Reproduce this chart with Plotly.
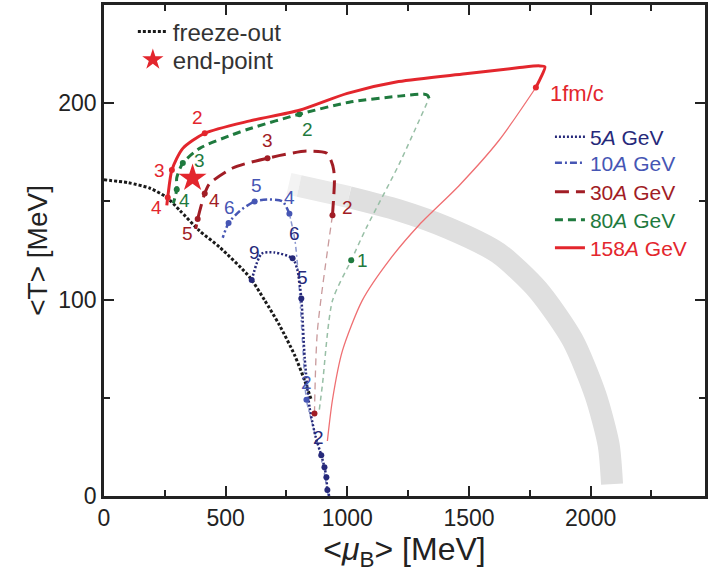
import plotly.graph_objects as go

# ---------------- data (MeV) ----------------
# freeze-out curve
fo_mu = [0, 100, 189, 258, 311, 393, 475, 598, 660, 721, 783, 824, 852]
fo_T = [161, 159.5, 156.7, 152, 145.5, 135, 126.7, 111.5, 99.7, 87, 71.8, 59, 48.9]

# critical end-point
ep_mu = [364]
ep_T = [161.8]

# grey band
band_mu = [760, 802, 1006, 1211, 1415, 1620, 1783, 1926, 2020, 2074, 2088]
band_T = [159, 157.8, 152.2, 145.5, 136.4, 123.7, 104.9, 79.4, 51.4, 26, 6]

# 158A GeV
s158_thin_mu = [918, 939, 980, 1061, 1172, 1295, 1459, 1623, 1775]
s158_thin_T = [28, 49, 74, 99.5, 120, 138, 158, 181, 208]
s158_mu = [1775, 1795, 1812, 1790, 1700, 1485, 1211, 1000, 803, 600, 414, 324, 279, 262, 258]
s158_T = [208, 213, 218.5, 219, 218, 215, 211, 205, 196.4, 191, 184.7, 177, 166, 152, 148]
s158_pt_mu = [1775, 414, 279, 262]
s158_pt_T = [208, 184.7, 166, 152]
s158_pt_lab = ["1fm/c", "2", "3", "4"]

# 80A GeV
s80_thin_mu = [885, 898, 939, 1016, 1078, 1213, 1336]
s80_thin_T = [44, 57, 99.5, 120, 136.5, 169, 202.5]
s80_mu = [1336, 1330, 1316, 1213, 1008, 803, 598, 529, 393, 324, 299, 299, 285]
s80_T = [202.5, 204, 204.6, 203.6, 200.5, 194.4, 187, 184, 177, 169.5, 162, 156, 149]
s80_pt_mu = [1016, 803, 324, 299]
s80_pt_T = [120, 194.4, 169.5, 156]
s80_pt_lab = ["1", "2", "3", "4"]

# 30A GeV
s30_thin_mu = [865, 877, 939]
s30_thin_T = [42, 84, 143]
s30_mu = [939, 947, 944, 934, 914, 832, 672, 529, 434, 414, 385, 377]
s30_T = [143, 160, 166, 170.5, 174.6, 175.6, 172, 167, 159, 154, 141, 136]
s30_pt_mu = [865, 939, 672, 414, 385]
s30_pt_T = [42, 143, 172, 154, 141]
s30_pt_lab = ["", "2", "3", "4", "5"]

# 10A GeV
s10_thin_mu = [922, 900, 860, 832, 815, 800, 785, 762]
s10_thin_T = [0, 15, 35, 49, 80, 110, 130, 143.7]
s10_mu = [762, 734, 680, 619, 557, 512, 488]
s10_T = [143.7, 150, 151, 150, 145, 139, 131.5]
s10_pt_mu = [832, 762, 619, 512]
s10_pt_T = [49, 143.7, 150, 139]
s10_pt_lab = ["2", "4", "5", "6"]

# 5A GeV
s5_mu = [926, 918, 914, 906, 893, 870, 845, 825, 811, 795, 775, 700, 648, 607]
s5_T = [0, 3, 9.6, 14.7, 20.8, 30, 45, 70, 100.5, 115, 121, 124, 123.4, 110]
s5_pt_mu = [918, 914, 906, 893, 811, 775, 607]
s5_pt_T = [3, 9.6, 14.7, 20.8, 100.5, 121, 110]
s5_pt_lab = ["", "", "", "2", "5", "6", "9"]

# ---------------- styles ----------------
FONT = "Liberation Sans, Arial, sans-serif"
C5, C10, C30, C80, C158 = "#26297a", "#4656b4", "#a11d25", "#1f7a3e", "#e3262d"
SM = 0.7

fig = go.Figure()

# grey band (fading at the left end)
for (a, b, col) in [(0, 2, "#f3f3f3"), (1, 3, "#e9e9e9"), (2, len(band_mu), "#dfdfdf")]:
    fig.add_trace(go.Scatter(x=band_mu[a:b], y=band_T[a:b], mode="lines",
                             line=dict(color=col, width=22, shape="spline", smoothing=SM),
                             showlegend=False, hoverinfo="skip"))

# thin (pre-equilibrium) parts
fig.add_trace(go.Scatter(x=s158_thin_mu, y=s158_thin_T, mode="lines", showlegend=False,
                         line=dict(color="#ef6f72", width=1.3, shape="spline", smoothing=SM)))
fig.add_trace(go.Scatter(x=s80_thin_mu, y=s80_thin_T, mode="lines", showlegend=False,
                         line=dict(color="#98bfa6", width=1.5, dash="5px,4px", shape="spline", smoothing=SM)))
fig.add_trace(go.Scatter(x=s30_thin_mu, y=s30_thin_T, mode="lines", showlegend=False,
                         line=dict(color="#c99a9c", width=1.3, dash="7px,5px", shape="spline", smoothing=SM)))
fig.add_trace(go.Scatter(x=s10_thin_mu, y=s10_thin_T, mode="lines", showlegend=False,
                         line=dict(color="#8b97cf", width=1.5, dash="5px,3px,2px,3px", shape="spline", smoothing=SM)))

# freeze-out
fig.add_trace(go.Scatter(x=fo_mu, y=fo_T, mode="lines", name="freeze-out",
                         line=dict(color="#1a1a1a", width=3, dash="3px,2px", shape="spline", smoothing=SM),
                         legend="legend"))
# end point
fig.add_trace(go.Scatter(x=ep_mu, y=ep_T, mode="markers", name="end-point",
                         marker=dict(symbol="star", size=21, color=C158),
                         legend="legend2"))

series = [
    ("5<i>A</i> GeV", C5, s5_mu, s5_T, dict(width=2.5, dash="2px,2px"), s5_pt_mu, s5_pt_T, s5_pt_lab),
    ("10<i>A</i> GeV", C10, s10_mu, s10_T, dict(width=2.5, dash="7px,3px,2px,3px"), s10_pt_mu, s10_pt_T, s10_pt_lab),
    ("30<i>A</i> GeV", C30, s30_mu, s30_T, dict(width=3, dash="14px,7px"), s30_pt_mu, s30_pt_T, s30_pt_lab),
    ("80<i>A</i> GeV", C80, s80_mu, s80_T, dict(width=3, dash="8px,5px"), s80_pt_mu, s80_pt_T, s80_pt_lab),
    ("158<i>A</i> GeV", C158, s158_mu, s158_T, dict(width=3), s158_pt_mu, s158_pt_T, s158_pt_lab),
]
for i, (name, col, mu, T, ln, pmu, pT, plab) in enumerate(series):
    fig.add_trace(go.Scatter(x=mu, y=T, mode="lines",
                             name=f'<span style="color:{col}">{name}</span>',
                             line=dict(color=col, shape="spline", smoothing=SM, **ln),
                             legend=f"legend{i + 3}"))
    fig.add_trace(go.Scatter(x=pmu, y=pT, mode="markers", showlegend=False,
                             marker=dict(color=col, size=6)))

# label offsets (pixels) for time labels
offsets = {
    C158: [(12, -6, "left"), (-7, 16, "center"), (-12, -1, "center"), (-11, -10, "center")],
    C80: [(11, 0, "center"), (8, -15, "center"), (17, 3, "center"), (8, -11, "center")],
    C30: [(0, 0, "center"), (15, 8, "center"), (0, 18, "center"), (10, -7, "center"), (-10, -14, "center")],
    C10: [(0, 17, "center"), (0, 16, "center"), (2, 16, "center"), (1, 16, "center")],
    C5: [(0, 0, "center")] * 3 + [(-3, 18, "center"), (1, 21, "center"), (2, 25, "center"), (3, 27, "center")],
}
annotations = []
for (name, col, mu, T, ln, pmu, pT, plab) in series:
    for (x, y, lab, (dx, dy, xa)) in zip(pmu, pT, plab, offsets[col]):
        if not lab:
            continue
        annotations.append(dict(x=x, y=y, text=lab, showarrow=False, xshift=dx, yshift=dy,
                                xanchor=xa, yanchor="middle",
                                font=dict(family=FONT, size=22 if len(lab) > 1 else 19, color=col)))

# y-axis title
annotations.append(dict(xref="paper", yref="paper", x=-0.111, y=0.5, text="&lt;T&gt; [MeV]",
                        textangle=-90, showarrow=False, xanchor="center", yanchor="middle",
                        font=dict(family=FONT, size=28, color="#222")))

axis_common = dict(showgrid=False, zeroline=False, showline=True, linewidth=2.5,
                   linecolor="#222", mirror="allticks", ticks="inside", ticklen=10,
                   tickwidth=2, tickcolor="#222",
                   tickfont=dict(family=FONT, size=23, color="#222"))

leg_common = dict(xanchor="left", yanchor="middle", bgcolor="rgba(0,0,0,0)")
legend_layout = dict(
    legend=dict(x=0.048, y=0.945, font=dict(family=FONT, size=24, color="#333"), **leg_common),
    legend2=dict(x=0.048, y=0.888, font=dict(family=FONT, size=24, color="#333"), **leg_common),
)
leg_y = [0.731, 0.678, 0.619, 0.562, 0.505]
for i, yy in enumerate(leg_y):
    legend_layout[f"legend{i + 3}"] = dict(x=0.742, y=yy, font=dict(family=FONT, size=21), **leg_common)

fig.update_layout(
    width=708, height=578,
    margin=dict(l=104, r=0, t=5, b=82),
    paper_bgcolor="white", plot_bgcolor="white",
    font=dict(family=FONT, color="#222"),
    xaxis=dict(range=[0, 2470], tick0=0, dtick=500,
               minor=dict(dtick=250, ticks="inside", ticklen=6, tickwidth=2, tickcolor="#222"),
               title=dict(text="&lt;<i>μ</i><sub>B</sub>&gt; [MeV]",
                          font=dict(family=FONT, size=32, color="#222"), standoff=8),
               **axis_common),
    yaxis=dict(range=[0, 250], tick0=0, dtick=100,
               minor=dict(dtick=50, ticks="inside", ticklen=6, tickwidth=2, tickcolor="#222"),
               **axis_common),
    annotations=annotations,
    **legend_layout,
)

fig.write_html("out.html", config={"displayModeBar": False},
               post_script="document.body.style.margin='0px';")
